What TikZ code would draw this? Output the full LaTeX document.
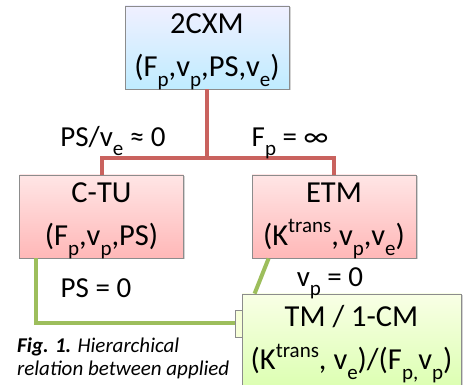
\documentclass[tikz,border=0pt]{standalone}
\usepackage{fontspec}
\setmainfont{Carlito}
\usetikzlibrary{calc,shadows}

\definecolor{linkred}{HTML}{C9625E}
\definecolor{linkgreen}{HTML}{9DBE5C}
\definecolor{boxline}{HTML}{8C8C8C}

\tikzset{
  model/.style={draw=boxline,line width=0.8pt,minimum width=164pt,minimum height=83pt,
    inner sep=0pt,align=center,font=\fontsize{30.5}{43}\selectfont,
    execute at begin node=\rule{0pt}{32pt},
    drop shadow={shadow xshift=1.5pt,shadow yshift=-1.5pt,opacity=0.35}},
  bluebox/.style={model,top color=blue!6!white,bottom color=blue!30!cyan!25!white},
  redbox/.style={model,top color=red!10!white,bottom color=red!28!white},
  greenbox/.style={model,top color=green!25!yellow!10!white,bottom color=green!45!yellow!30!white},
  cond/.style={font=\fontsize{29}{30}\selectfont,inner sep=0pt},
  redlink/.style={draw=linkred,line width=4pt},
  greenlink/.style={draw=linkgreen,line width=4pt}
}
\newcommand{\lo}[1]{\raisebox{-.32em}[\height][0pt]{\fontsize{21}{21}\selectfont #1}}
\newcommand{\hi}[1]{\raisebox{.42em}{\fontsize{21}{21}\selectfont #1}}

\begin{document}
\begin{tikzpicture}[line cap=butt,line join=miter,x=1pt,y=-1pt]
\useasboundingbox (0,0) rectangle (464,385);
% the four models
\node[bluebox] (cxm) at (207,47.5) {2CXM\\(F\lo{p},v\lo{p},PS,v\lo{e})};
\node[redbox] (ctu) at (101.5,216.5) {C-TU\\(F\lo{p},v\lo{p},PS)};
\node[redbox] (etm) at (334,216.5) {ETM\\(K\hi{trans},v\lo{p},v\lo{e})};
\node[greenbox,minimum width=219pt,minimum height=92pt] (tm) at (351.5,340) {TM / 1-CM\\(K\hi{trans}, v\lo{e})/(F\lo{p,}v\lo{p})};
\node[draw=boxline,line width=0.6pt,fill=green!20!yellow!15!white,minimum width=7pt,minimum height=27pt,inner sep=0pt] (stub) at (239,323.5) {};
% red links
\coordinate (split) at (207,158);
\draw[redlink] (cxm.south) -- (split);
\draw[redlink] (ctu.north) |- (split) -| (etm.north);
% green links
\coordinate (bend) at (36,323);
\draw[greenlink] (ctu.south -| bend) |- (stub.west);
\draw[greenlink] ($(etm.south west)+(17,0)$) -- ($(tm.north west)+(13,0)$);
% conditions
\node[cond] (c1) at (113,137) {PS/v\lo{e} ≈ 0};
\node[cond] (c2) at (290,137) {F\lo{p} = ∞};
\node[cond] (c3) at (330,277) {v\lo{p} = 0};
\node[cond] (c4) at (96,288) {PS = 0};
% caption
\node[anchor=north west,align=left,inner sep=0pt,font=\fontsize{21}{23}\selectfont\itshape] (cap) at (17,338)
  {\textbf{Fig. 1.} Hierarchical\\relation between applied};
\end{tikzpicture}
\end{document}
